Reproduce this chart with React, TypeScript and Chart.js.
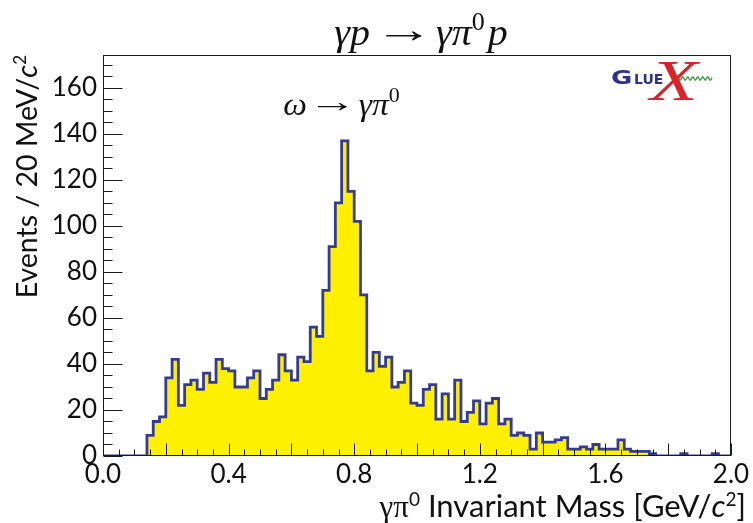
import React, { useEffect, useRef } from "react";
import { Chart, registerables } from "chart.js";

Chart.register(...registerables);

// γπ0 invariant mass histogram, 20 MeV bins from 0.0 to 2.0 GeV/c^2
const MASS_MIN = 0.0;
const MASS_MAX = 2.0;
const BIN_WIDTH = 0.02;
const COUNTS = [
  0, 0, 0, 0, 0, 0, 0,
  9, 15, 17, 34, 42, 22, 31, 33, 29, 36, 32, 42, 38,
  37, 30, 30, 34, 37, 25, 29, 33, 44, 37,
  33, 43, 41, 56, 52, 72, 91, 110, 137, 115,
  102, 70, 37, 45, 39, 43, 30, 32, 37, 23,
  22, 29, 31, 16, 27, 16, 33, 15, 19, 24,
  14, 23, 25, 14, 16, 9, 10, 9, 3, 10,
  6, 6, 7, 8, 3, 3, 4, 3, 5, 3,
  3, 3, 7, 3, 2, 2, 2, 1, 0, 0,
  0, 0, 1, 0, 0, 0, 0, 1, 0, 0,
];
const X_TICKS = [0.0, 0.4, 0.8, 1.2, 1.6, 2.0];
const Y_TICKS = [0, 20, 40, 60, 80, 100, 120, 140, 160];
const Y_MAX = 174.3;

const FILL = "#FFEF00";
const LINE = "#343B96";
const SANS = '"Lato", "Open Sans", sans-serif';
const SERIF = '"Liberation Serif", "DejaVu Serif", serif';

// a run of text; `gap` adds blank space, `ink` stretches the glyph ink to a width,
// `sx` stretches the run by a factor
type Run = { t?: string; font?: string; dy?: number; sx?: number; ink?: number; gap?: number };

function runWidth(ctx: CanvasRenderingContext2D, r: Run) {
  if (r.gap !== undefined) return r.gap;
  if (r.ink !== undefined) return r.ink;
  ctx.font = r.font!;
  return ctx.measureText(r.t!).width * (r.sx || 1);
}

function drawRuns(
  ctx: CanvasRenderingContext2D,
  runs: Run[],
  x: number,
  y: number,
  align: "left" | "center" | "right"
) {
  let w = 0;
  for (const r of runs) w += runWidth(ctx, r);
  let cx = align === "left" ? x : align === "center" ? x - w / 2 : x - w;
  ctx.textAlign = "left";
  ctx.textBaseline = "alphabetic";
  ctx.fillStyle = "#111";
  for (const r of runs) {
    const rw = runWidth(ctx, r);
    if (r.gap === undefined) {
      ctx.font = r.font!;
      const m = ctx.measureText(r.t!);
      ctx.save();
      if (r.ink !== undefined) {
        const inkW = m.actualBoundingBoxLeft + m.actualBoundingBoxRight;
        const sx = r.ink / inkW;
        ctx.translate(cx, y + (r.dy || 0));
        ctx.scale(sx, 1);
        ctx.fillText(r.t!, m.actualBoundingBoxLeft, 0);
      } else {
        ctx.translate(cx, y + (r.dy || 0));
        ctx.scale(r.sx || 1, 1);
        ctx.fillText(r.t!, 0, 0);
      }
      ctx.restore();
    }
    cx += rw;
  }
}

// frame, inward ticks, titles, annotation and logo
const decorations = {
  id: "decorations",
  afterDatasetsDraw(chart: any) {
    const { ctx, chartArea: a, scales } = chart;
    const xs = scales.x;
    const ys = scales.y;
    ctx.save();

    // frame
    ctx.strokeStyle = "#1a1a1a";
    ctx.lineWidth = 1;
    const L = Math.round(a.left) + 0.5;
    const R = Math.round(a.right) - 0.5;
    const T = Math.round(a.top) + 0.5;
    const B = Math.round(a.bottom) - 0.5;
    ctx.strokeRect(L, T, R - L, B - T);

    // x ticks: every 0.05, longer every 0.2
    ctx.beginPath();
    for (let k = 0; k <= 40; k++) {
      const px = Math.round(xs.getPixelForValue(k * 0.05)) + 0.5;
      const len = k % 4 === 0 ? 12 : 6;
      ctx.moveTo(px, B);
      ctx.lineTo(px, B - len);
    }
    // y ticks: every 5, longer every 20
    for (let k = 0; k * 5 <= Y_MAX; k++) {
      const py = Math.round(ys.getPixelForValue(k * 5)) + 0.5;
      const len = k % 4 === 0 ? 19 : 9;
      ctx.moveTo(L, py);
      ctx.lineTo(L + len, py);
    }
    ctx.stroke();

    // title
    const tf = 37;
    const ti = `italic ${tf}px ${SERIF}`;
    drawRuns(
      ctx,
      [
        { t: "γp", font: ti, sx: 1.08 },
        { gap: 15 },
        { t: "→", font: `${tf}px ${SERIF}`, ink: 37, dy: -3 },
        { gap: 14 },
        { t: "γπ", font: ti, sx: 1.08 },
        { t: "0", font: `${Math.round(tf * 0.7)}px ${SERIF}`, dy: -15 },
        { gap: 3 },
        { t: "p", font: ti, sx: 1.08 },
      ],
      421,
      45,
      "center"
    );

    // omega annotation
    const af = 31;
    const ai = `italic ${af}px ${SERIF}`;
    drawRuns(
      ctx,
      [
        { t: "ω", font: ai, sx: 1.08 },
        { gap: 11 },
        { t: "→", font: `${af}px ${SERIF}`, ink: 30, dy: -3 },
        { gap: 11 },
        { t: "γπ", font: ai, sx: 1.08 },
        { t: "0", font: `${Math.round(af * 0.7)}px ${SERIF}`, dy: -13 },
      ],
      341.5,
      115,
      "center"
    );

    // x axis title
    const xf = 31;
    drawRuns(
      ctx,
      [
        { t: "γπ", font: `${xf}px ${SERIF}` },
        { t: "0", font: `${Math.round(xf * 0.6)}px ${SANS}`, dy: -11 },
        { t: " Invariant Mass [GeV/", font: `${xf}px ${SANS}` },
        { t: "c", font: `italic ${xf}px ${SANS}` },
        { t: "2", font: `${Math.round(xf * 0.6)}px ${SANS}`, dy: -11 },
        { t: "]", font: `${xf}px ${SANS}` },
      ],
      746,
      517,
      "right"
    );

    // y axis title
    ctx.save();
    ctx.translate(37, 55);
    ctx.rotate(-Math.PI / 2);
    const yf = 28.5;
    drawRuns(
      ctx,
      [
        { t: "Events / 20 MeV/", font: `${yf}px ${SANS}` },
        { t: "c", font: `italic ${yf}px ${SANS}` },
        { t: "2", font: `${Math.round(yf * 0.6)}px ${SANS}`, dy: -11 },
      ],
      0,
      0,
      "right"
    );
    ctx.restore();

    // GlueX logo
    ctx.fillStyle = "#2E3192";
    ctx.textAlign = "left";
    ctx.textBaseline = "alphabetic";
    ctx.font = 'bold 20px "DejaVu Sans", sans-serif';
    ctx.save();
    ctx.translate(611, 84);
    ctx.scale(1.3, 1);
    ctx.fillText("G", 0, 0);
    ctx.restore();
    ctx.font = 'bold 14px "DejaVu Sans", sans-serif';
    ctx.fillText("LUE", 634, 84);
    ctx.strokeStyle = "#3C9A3C";
    ctx.lineWidth = 1.4;
    ctx.beginPath();
    for (let px = 679; px <= 712; px += 0.5) {
      const py = 78.5 + 1.6 * Math.sin(((px - 679) / 5) * 2 * Math.PI);
      if (px === 679) ctx.moveTo(px, py);
      else ctx.lineTo(px, py);
    }
    ctx.stroke();
    ctx.fillStyle = "#D8232A";
    ctx.font = `italic 58px ${SERIF}`;
    ctx.save();
    ctx.translate(650, 100);
    ctx.scale(1.35, 1);
    ctx.fillText("X", 0, 0);
    ctx.restore();

    ctx.restore();
  },
};

export default function App() {
  const canvasRef = useRef<HTMLCanvasElement | null>(null);

  useEffect(() => {
    const canvas = canvasRef.current;
    if (!canvas) return;

    const points = COUNTS.map((c, i) => ({ x: MASS_MIN + i * BIN_WIDTH, y: c }));
    points.push({ x: MASS_MAX, y: COUNTS[COUNTS.length - 1] });

    const tickFont = { family: SANS, size: 26 };

    const chart = new Chart(canvas, {
      type: "line",
      data: {
        datasets: [
          {
            data: points,
            stepped: "before",
            borderColor: LINE,
            borderWidth: 2.8,
            backgroundColor: FILL,
            fill: "origin",
            pointRadius: 0,
            tension: 0,
          },
        ],
      },
      options: {
        animation: false,
        responsive: false,
        layout: { padding: { left: 0, right: 22, top: 55, bottom: 0 } },
        plugins: {
          legend: { display: false },
          tooltip: { enabled: false },
          title: { display: false },
        },
        scales: {
          x: {
            type: "linear",
            min: MASS_MIN,
            max: MASS_MAX,
            afterFit: (s: any) => {
              s.height = 67;
            },
            afterBuildTicks: (s: any) => {
              s.ticks = X_TICKS.map((v) => ({ value: v }));
            },
            grid: { display: false, drawTicks: false },
            border: { display: false },
            ticks: {
              autoSkip: false,
              maxRotation: 0,
              padding: 3,
              color: "#111",
              font: tickFont,
              callback: (v: any) => Number(v).toFixed(1),
            },
          },
          y: {
            type: "linear",
            min: 0,
            max: Y_MAX,
            afterFit: (s: any) => {
              s.width = 103;
            },
            afterBuildTicks: (s: any) => {
              s.ticks = Y_TICKS.map((v) => ({ value: v }));
            },
            grid: { display: false, drawTicks: false },
            border: { display: false },
            ticks: {
              autoSkip: false,
              padding: 6,
              color: "#111",
              font: tickFont,
              callback: (v: any) => String(v),
            },
          },
        },
      },
      plugins: [decorations],
    });

    return () => chart.destroy();
  }, []);

  return (
    <div style={{ position: "absolute", left: 0, top: 0, width: 753, height: 523, background: "#fff" }}>
      <canvas ref={canvasRef} width={753} height={523} style={{ width: 753, height: 523, display: "block" }} />
    </div>
  );
}
